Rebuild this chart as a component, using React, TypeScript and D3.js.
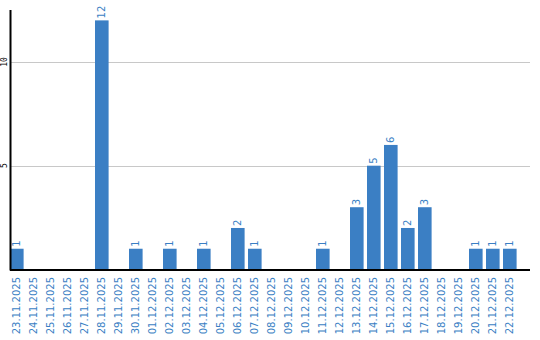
import React from "react";
import * as d3 from "d3";

const dates = [
  "23.11.2025","24.11.2025","25.11.2025","26.11.2025","27.11.2025","28.11.2025","29.11.2025","30.11.2025",
  "01.12.2025","02.12.2025","03.12.2025","04.12.2025","05.12.2025","06.12.2025","07.12.2025","08.12.2025",
  "09.12.2025","10.12.2025","11.12.2025","12.12.2025","13.12.2025","14.12.2025","15.12.2025","16.12.2025",
  "17.12.2025","18.12.2025","19.12.2025","20.12.2025","21.12.2025","22.12.2025",
];
const counts = [1,0,0,0,0,12,0,1,0,1,0,1,0,2,1,0,0,0,1,0,3,5,6,2,3,0,0,1,1,1];
const yTicks = [5, 10];

const W = 540, H = 340;
const left = 10, right = 530, top = 10, bottom = 269.5;
const blue = "#3b7fc4";

export default function App() {
  const x = d3.scaleBand<string>().domain(dates).range([left, left + 29.8 * 17]).paddingInner(0.2).paddingOuter(0);
  const y = d3.scaleLinear().domain([0, 12.5]).range([bottom, top]);
  const font = "'DejaVu Sans', Verdana, sans-serif";
  return (
    <svg width={W} height={H} style={{ position: "absolute", left: 0, top: 0 }}>
      {yTicks.map((t) => (
        <g key={t}>
          <line x1={left} x2={right} y1={Math.round(y(t)) + 0.5} y2={Math.round(y(t)) + 0.5} stroke="#c8c8c8" strokeWidth={1} />
          <text transform={`translate(7,${y(t)}) rotate(-90)`} textAnchor="middle" fontFamily="'DejaVu Sans Mono', monospace" fontSize={8} fill="#000">{t}</text>
        </g>
      ))}
      {dates.map((d, i) => {
        const v = counts[i];
        const cx = (x(d) as number) + x.bandwidth() / 2;
        return (
          <g key={d}>
            {v > 0 && (
              <>
                <rect x={x(d)} y={y(v)} width={x.bandwidth()} height={bottom - y(v)} fill={blue} />
                <text transform={`translate(${cx},${y(v) - 2}) rotate(-90)`} dy="0.35em" textAnchor="start" fontFamily={font} fontSize={10} fill={blue}>{v}</text>
              </>
            )}
            <text transform={`translate(${cx},277) rotate(-90)`} dy="0.35em" textAnchor="end" fontFamily={font} fontSize={10} fill={blue}>{d}</text>
          </g>
        );
      })}
      <line x1={10.5} x2={10.5} y1={top} y2={bottom + 1} stroke="#000" strokeWidth={2} />
      <line x1={10} x2={right} y1={270} y2={270} stroke="#000" strokeWidth={2} />
    </svg>
  );
}
